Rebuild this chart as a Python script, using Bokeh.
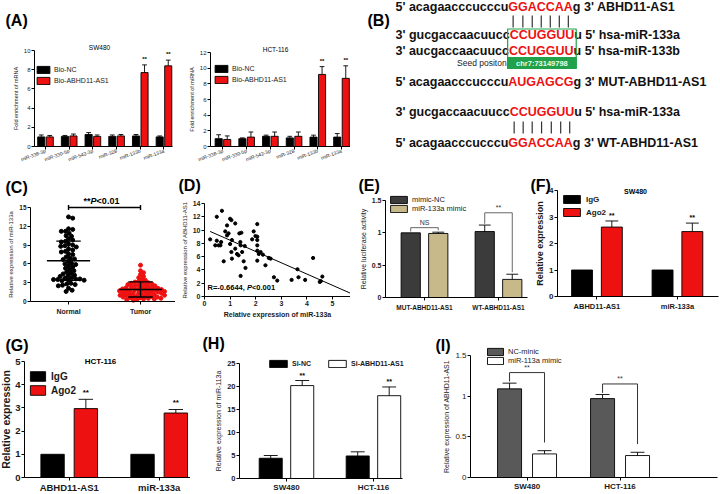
import numpy as np
from bokeh.plotting import figure
from bokeh.models import Range1d, FixedTicker, Label, Legend, LegendItem
from bokeh.layouts import column, row
from bokeh.embed import file_html
from bokeh.resources import INLINE
from bokeh.core.properties import value

FONT = "Liberation Sans"
RED = "#ee1111"

# ---------------- data ----------------
# (A) RNA pull-down
a_mirnas = ["miR-338-3p", "miR-330-5p", "miR-542-3p", "miR-328", "miR-133b", "miR-133a"]
a_sw_nc = [1.0, 1.05, 1.25, 1.05, 1.1, 1.0]
a_sw_nc_err = [0.2, 0.1, 0.2, 0.15, 0.15, 0.1]
a_sw_ab = [1.0, 1.1, 1.05, 1.1, 7.7, 8.4]
a_sw_ab_err = [0.15, 0.2, 0.15, 0.15, 0.8, 0.6]
a_hct_nc = [1.0, 1.0, 1.3, 1.1, 1.2, 1.2]
a_hct_nc_err = [0.5, 0.1, 0.15, 0.2, 0.25, 0.45]
a_hct_ab = [0.9, 1.2, 1.3, 1.3, 9.2, 8.7]
a_hct_ab_err = [0.45, 0.65, 0.55, 0.55, 1.0, 1.6]
a_sig = ["", "", "", "", "**", "**"]

# (B) binding sites
b_prefix = ["5' acagaacccucccu", "3' gucgaccaacuucc", "3' aucgaccaacuucc",
            "5' acagaacccucccu", "3' gucgaccaacuucc", "5' acagaacccucccu"]
b_site = ["GGACCAA", "CCUGGUU", "CCUGGUU", "AUGAGCG", "CCUGGUU", "GGACCAA"]
b_suffix = ["g 3' ABHD11-AS1", "u 5' hsa-miR-133a", "u 5' hsa-miR-133b",
            "g 3' MUT-ABHD11-AS1", "u 5' hsa-miR-133a", "g 3'  WT-ABHD11-AS1"]
b_seed_label = "Seed positon"
b_seed_pos = "chr7:73149798"

# (C) miR-133a in tissues
c_groups = ["Normal", "Tumor"]
c_normal = [13.5, 13.3, 11.6, 11.5, 11.2, 11.2, 10.9, 10.5, 10.4, 10.0, 9.8, 9.6, 9.5,
            9.2, 9.0, 8.9, 8.8, 8.7, 8.4, 8.2, 8.0, 7.9, 7.6, 7.5, 7.1, 6.9, 6.8, 6.7,
            6.4, 6.1, 6.0, 5.9, 5.7, 5.5, 5.3, 5.1, 4.9, 4.7, 4.5, 4.4, 4.2, 4.1, 4.0,
            3.8, 3.7, 3.6, 3.6, 3.5, 3.5, 3.4, 3.4, 3.3, 2.9, 2.8, 2.7, 2.6, 2.5, 2.1,
            1.8, 1.6]
c_tumor = [5.8, 4.9, 4.6, 4.3, 4.0, 3.8, 3.5, 3.4, 3.2, 3.1, 3.0, 2.9, 2.9, 2.8, 2.7,
           2.7, 2.6, 2.5, 2.5, 2.4, 2.3, 2.3, 2.2, 2.2, 2.1, 2.1, 2.0, 2.0, 1.9, 1.9,
           1.8, 1.8, 1.8, 1.7, 1.7, 1.6, 1.6, 1.5, 1.5, 1.5, 1.4, 1.4, 1.3, 1.3, 1.2,
           1.2, 1.1, 1.1, 1.0, 1.0, 1.0, 0.9, 0.9, 0.8, 0.8, 0.7, 0.7, 0.6, 0.6, 0.5,
           0.5, 0.4, 0.4, 0.3, 0.3, 0.2]

# (D) correlation
d_mir = [0.22, 0.48, 0.42, 0.55, 0.62, 0.65, 0.48, 0.68, 0.75, 0.81, 0.88, 0.88, 0.94,
         1.0, 1.05, 1.0, 1.07, 1.05, 1.07, 1.2, 1.2, 1.27, 1.33, 1.36, 1.4, 1.41, 1.44,
         1.41, 1.47, 1.53, 1.57, 1.6, 1.86, 1.92, 1.99, 2.06, 2.06, 2.06, 2.06, 2.06,
         2.06, 2.12, 2.19, 2.28, 2.38, 2.51, 2.58, 2.71, 2.84, 3.4, 3.63, 3.67, 3.93,
         4.24, 4.5, 4.54, 4.6]
d_abhd = [8.6, 8.4, 7.7, 7.7, 7.7, 8.2, 12.0, 12.9, 5.3, 9.8, 9.2, 10.7, 9.5, 11.7,
          11.5, 7.9, 8.5, 6.7, 5.7, 11.0, 7.2, 6.4, 6.2, 9.5, 8.2, 7.7, 9.6, 3.1, 6.7,
          5.3, 7.6, 4.3, 8.6, 9.8, 9.1, 10.9, 9.0, 8.5, 7.7, 6.9, 5.4, 6.4, 6.7, 6.3,
          4.7, 5.8, 5.7, 2.9, 2.4, 2.5, 4.1, 2.9, 2.5, 5.8, 2.2, 2.3, 3.0]
d_stat = ("R=-0.6644, ", "P", "<0.001")

# (E) luciferase
e_groups = ["MUT-ABHD11-AS1", "WT-ABHD11-AS1"]
e_nc = [1.0, 1.02]
e_nc_err = [0.0, 0.1]
e_mimic = [0.99, 0.28]
e_mimic_err = [0.02, 0.08]

# (F) / (G) RIP
fg_groups = ["ABHD11-AS1", "miR-133a"]
f_igg = [1.0, 1.0]
f_igg_err = [0.0, 0.0]
f_ago2 = [2.62, 2.45]
f_ago2_err = [0.23, 0.32]
g_igg = [1.0, 1.0]
g_igg_err = [0.0, 0.0]
g_ago2 = [2.97, 2.78]
g_ago2_err = [0.4, 0.15]

# (H) knockdown
hi_groups = ["SW480", "HCT-116"]
h_sinc = [4.4, 4.9]
h_sinc_err = [0.6, 0.9]
h_si = [20.2, 18.0]
h_si_err = [1.1, 1.9]

# (I) mimic
i_nc = [1.09, 0.97]
i_nc_err = [0.07, 0.05]
i_mimic = [0.29, 0.27]
i_mimic_err = [0.04, 0.04]

# ---------------- helpers ----------------
CW = {" ": 278, "'": 238, "-": 333, ".": 278, ",": 278, ":": 333, "*": 389, "<": 584,
      "=": 584, "(": 333, ")": 333,
      "A": 722, "B": 722, "C": 722, "D": 722, "G": 778, "H": 722, "M": 833, "N": 722,
      "P": 667, "R": 722, "S": 667, "T": 611, "U": 722, "W": 944,
      "a": 556, "c": 556, "g": 611, "u": 611, "h": 611, "s": 556, "m": 889, "i": 278,
      "r": 389, "o": 611, "n": 611, "e": 556, "t": 333, "p": 611}


def text_w(s, size):
    return sum(CW.get(ch, 556) for ch in s) / 1000.0 * size


def make_panel(w, h, L, R, T, B, xr, yr, axes=True):
    """Frame covers the whole figure; the data box (xr, yr) sits at L/R/T/B px
    inside it and the axes are pinned to its edges with fixed_location."""
    x0, x1 = xr
    y0, y1 = yr
    ux = (x1 - x0) / (w - L - R)
    uy = (y1 - y0) / (h - T - B)
    kw = {}
    if not axes:
        kw = dict(x_axis_location=None, y_axis_location=None)
    p = figure(width=w, height=h,
               x_range=Range1d(x0 - L * ux, x1 + R * ux),
               y_range=Range1d(y0 - B * uy, y1 + T * uy),
               output_backend="svg", toolbar_location=None, title=None,
               min_border_left=0, min_border_right=0, min_border_top=0,
               min_border_bottom=0, **kw)
    p.xgrid.visible = False
    p.ygrid.visible = False
    p.outline_line_color = None
    p.background_fill_color = "white"
    p.border_fill_color = "white"
    g = dict(w=w, h=h, L=L, R=R, T=T, B=B, xr=xr, yr=yr)
    return p, g


def to_data(g, fx, fy):
    fw = g["w"] - g["L"] - g["R"]
    fh = g["h"] - g["T"] - g["B"]
    x0, x1 = g["xr"]
    y0, y1 = g["yr"]
    return x0 + (fx - g["L"]) / fw * (x1 - x0), y1 - (fy - g["T"]) / fh * (y1 - y0)


def add_text(p, g, fx, fy, text, size, style="normal", color="black", align="left",
             baseline="middle"):
    x, y = to_data(g, fx, fy)
    p.add_layout(Label(x=x, y=y, text=text, text_font=FONT, text_font_size=f"{size}px",
                       text_font_style=style, text_color=color, text_align=align,
                       text_baseline=baseline))


def style_axes(p, g, xticks, xlabels, yticks, tick_px, xlab_px, ylabel, ylabel_px,
               tick_style="normal", xlab_style="normal", ylabel_style="normal",
               xlabel=None, xlabel_px=7, xlabel_style="normal", orient=None,
               ylab_standoff=2, xlab_standoff=1):
    xa = p.xaxis[0]
    ya = p.yaxis[0]
    for ax in (xa, ya):
        ax.axis_line_color = "black"
        ax.axis_line_width = 1
        ax.major_tick_line_color = "black"
        ax.major_tick_in = 0
        ax.major_tick_out = 3
        ax.minor_tick_line_color = None
        ax.major_label_text_font = FONT
        ax.major_label_text_color = "#1a1a1a"
        ax.major_label_standoff = 1
        ax.axis_label_text_font = FONT
        ax.axis_label_text_color = "#1a1a1a"
    xa.fixed_location = g["yr"][0]
    ya.fixed_location = g["xr"][0]
    xa.bounds = tuple(g["xr"])
    ya.bounds = tuple(g["yr"])
    xa.ticker = FixedTicker(ticks=xticks)
    if xlabels is not None:
        xa.major_label_overrides = dict(zip(xticks, xlabels))
    xa.major_label_text_font_size = f"{xlab_px}px"
    xa.major_label_text_font_style = xlab_style
    xa.major_label_standoff = xlab_standoff
    if orient is not None:
        xa.major_label_orientation = orient
    ya.ticker = FixedTicker(ticks=yticks)
    ya.major_label_text_font_size = f"{tick_px}px"
    ya.major_label_text_font_style = tick_style
    ya.axis_label = ylabel
    ya.axis_label_text_font_size = f"{ylabel_px}px"
    ya.axis_label_text_font_style = ylabel_style
    ya.axis_label_standoff = ylab_standoff
    if xlabel:
        xa.axis_label = xlabel
        xa.axis_label_text_font_size = f"{xlabel_px}px"
        xa.axis_label_text_font_style = xlabel_style
        xa.axis_label_standoff = 2


def bars(p, xs, tops, width, fill, line="black"):
    return p.vbar(x=xs, top=tops, width=width, fill_color=fill, line_color=line,
                  line_width=0.9)


def err_bars(p, xs, tops, errs, capw, color="black", lw=0.9):
    sel = [i for i, e in enumerate(errs) if e > 0]
    x = [xs[i] for i in sel]
    y0 = [tops[i] for i in sel]
    y1 = [tops[i] + errs[i] for i in sel]
    p.segment(x0=x, y0=y0, x1=x, y1=y1, line_color=color, line_width=lw)
    p.segment(x0=[v - capw / 2 for v in x], y0=y1, x1=[v + capw / 2 for v in x], y1=y1,
              line_color=color, line_width=lw)


def stars(p, xs, tops, errs, sig, pad, size):
    p.text(x=xs, y=[t + e + pad for t, e in zip(tops, errs)], text=sig,
           text_font=value(FONT), text_font_size=f"{size}px", text_font_style="bold",
           text_align="center", text_baseline="bottom", text_color="black")


def add_legend(p, g, rends, labels, left, first_center, gh, spacing, gw, size,
               style="normal", horizontal=False, standoff=3):
    """Legend anchored by its bottom edge; first_center is the px row of item 1."""
    items = [LegendItem(label=l, renderers=[r]) for r, l in zip(rends, labels)]
    leg = Legend(items=items, orientation="horizontal" if horizontal else "vertical",
                 glyph_width=int(gw), glyph_height=int(gh), label_height=int(gh),
                 label_width=10,
                 label_text_font=FONT, label_text_font_size=f"{size}px",
                 label_text_font_style=style, label_standoff=int(standoff),
                 spacing=int(spacing), padding=0, margin=0, border_line_color=None,
                 background_fill_alpha=0, label_text_color="#1a1a1a")
    n = 1 if horizontal else len(items)
    bottom = first_center - gh / 2 + n * int(gh) + (n - 1) * int(spacing)
    leg.location = (left, g["h"] - bottom)
    p.add_layout(leg)


# ---------------- (A) ----------------
def panel_a(L, R, T, xr, yr, yticks, nc, nc_err, ab, ab_err, title, title_x, ylabel,
            leg_left, leg_c, letter):
    p, g = make_panel(175, 165, L, R, T, 19, xr, yr)
    idx = np.arange(len(a_mirnas))
    x_nc = list(idx - 0.18)
    x_ab = list(idx + 0.18)
    r1 = bars(p, x_nc, nc, 0.3, "black")
    r2 = bars(p, x_ab, ab, 0.3, RED)
    err_bars(p, x_nc, nc, nc_err, 0.2)
    err_bars(p, x_ab, ab, ab_err, 0.2)
    stars(p, x_ab, ab, ab_err, a_sig, 0.03 * yr[1], 6)
    style_axes(p, g, list(range(len(a_mirnas))), a_mirnas, yticks, 6, 5, ylabel, 5.5,
               orient=0.35)
    add_legend(p, g, [r1, r2], ["Bio-NC", "Bio-ABHD11-AS1"], leg_left, leg_c, 9, 2, 16, 7)
    add_text(p, g, title_x, T - 3, title, 6.5, align="center")
    if letter:
        add_text(p, g, 5, 20, "(A)", 16, "bold")
    return p


pA1 = panel_a(34, 3, 50, (-0.464, 5.36), (0, 10), [0, 2, 4, 6, 8, 10],
              a_sw_nc, a_sw_nc_err, a_sw_ab, a_sw_ab_err, "SW480", 99,
              "Fold enrichment of mRNA", 35, 69, True)
pA2 = panel_a(35, 0, 52, (-0.525, 5.38), (0, 12), [0, 2, 4, 6, 8, 10, 12],
              a_hct_nc, a_hct_nc_err, a_hct_ab, a_hct_ab_err, "HCT-116", 100,
              "Fold enrichment of miRNA", 38, 68, False)

# ---------------- (B) ----------------
pB, gB = make_panel(370, 165, 0, 0, 0, 0, (0, 370), (165, 0), axes=False)
B_SIZE = 12.5
B_X0 = 45
b_line_y = [6, 34, 50, 81, 111, 142]
px_, py_, pt_, sx_, sy_, st_, ux_, uy_, ut_ = [], [], [], [], [], [], [], [], []
site_start = []
for k in range(len(b_prefix)):
    xs = B_X0 + text_w(b_prefix[k], B_SIZE)
    site_start.append(xs)
    px_.append(B_X0); py_.append(b_line_y[k]); pt_.append(b_prefix[k])
    sx_.append(xs); sy_.append(b_line_y[k]); st_.append(b_site[k])
    ux_.append(xs + text_w(b_site[k], B_SIZE)); uy_.append(b_line_y[k]); ut_.append(b_suffix[k])
common = dict(text_font=value(FONT), text_font_size=f"{B_SIZE}px", text_font_style="bold",
              text_align="left", text_baseline="middle")
pB.text(x=px_, y=py_, text=pt_, text_color="#111111", **common)
pB.text(x=sx_, y=sy_, text=st_, text_color=RED, **common)
pB.text(x=ux_, y=uy_, text=ut_, text_color="#111111", **common)


def pipes(k, y0, y1):
    xs = []
    pos = site_start[k]
    for ch in b_site[k]:
        wch = text_w(ch, B_SIZE)
        xs.append(pos + wch / 2)
        pos += wch
    pB.segment(x0=xs, y0=[y0] * len(xs), x1=xs, y1=[y1] * len(xs), line_color="#333333",
               line_width=1.2)


pipes(0, 15, 27)
pipes(4, 121, 133)
bx0 = site_start[1] - 2
bx1 = site_start[1] + text_w(b_site[1], B_SIZE) + 2
pB.quad(left=[bx0], right=[bx1], top=[57], bottom=[68], fill_color="#21a24a",
        line_color="#21a24a")
pB.quad(left=[bx0], right=[bx1], top=[28.5], bottom=[68], fill_color=None,
        line_color="#21a24a", line_width=1.2)
pB.text(x=[(bx0 + bx1) / 2], y=[62.5], text=[b_seed_pos], text_font=value(FONT),
        text_font_size="7.5px", text_font_style="bold", text_align="center",
        text_baseline="middle", text_color="#e8ffe8")
pB.text(x=[bx0 - 1], y=[62.5], text=[b_seed_label], text_font=value(FONT),
        text_font_size="8.5px", text_align="right", text_baseline="middle",
        text_color="#222222")
add_text(pB, gB, 17, 20, "(B)", 16, "bold")

# ---------------- (C) ----------------
pC, gC = make_panel(175, 160, 30, 0, 42, 24, (-0.528, 1.486), (0, 15))
kxC = (175 - 30) / (1.486 + 0.528)
kyC = (160 - 42 - 24) / 15.0


def swarm(vals, kx, ky, d):
    v = np.asarray(vals, dtype=float)
    order = np.argsort(-v, kind="stable")
    placed = []
    offs = np.zeros(len(v))
    for i in order:
        y = v[i] * ky
        k = 0
        found = None
        while found is None:
            cands = [0.0] if k == 0 else [k * 0.6, -k * 0.6]
            for c in cands:
                if all((c - a) ** 2 + (y - b) ** 2 >= d * d for a, b in placed):
                    found = c
                    break
            k += 1
        placed.append((found, y))
        offs[i] = found / kx
    return offs


nx = list(0 + swarm(c_normal, kxC, kyC, 3.9))
tx = list(1 + swarm(c_tumor, kxC, kyC, 3.5))
pC.scatter(nx, c_normal, size=4, color="black", marker="circle")
pC.scatter(tx, c_tumor, size=4, color=RED, marker="circle")
for gi, vals in enumerate([c_normal, c_tumor]):
    m = float(np.mean(vals))
    s = float(np.std(vals, ddof=1))
    pC.segment(x0=[gi - 0.3], y0=[m], x1=[gi + 0.3], y1=[m], line_color="black", line_width=1.6)
    pC.segment(x0=[gi - 0.17, gi - 0.17, gi], y0=[m + s, m - s, m - s],
               x1=[gi + 0.17, gi + 0.17, gi], y1=[m + s, m - s, m + s],
               line_color="black", line_width=1.4)
pC.segment(x0=[0, 0, 1], y0=[15, 14.6, 14.6], x1=[1, 0, 1], y1=[15, 15.4, 15.4],
           line_color="black", line_width=1.4)
style_axes(pC, gC, [0, 1], c_groups, [0, 3, 6, 9, 12, 15], 6.5, 7,
           "Relative expression of miR-133a", 6, tick_style="bold", xlab_style="bold",
           xlab_standoff=3)
sz = 9
tot = text_w("**", sz) + text_w("P", sz) + text_w("<0.01", sz)
x0c = 101 - tot / 2
add_text(pC, gC, x0c, 35, "**", sz, "bold")
add_text(pC, gC, x0c + text_w("**", sz), 35, "P", sz, "bold italic")
add_text(pC, gC, x0c + text_w("**P", sz), 35, "<0.01", sz, "bold")
add_text(pC, gC, 5, 22, "(C)", 16, "bold")

# ---------------- (D) ----------------
pD, gD = make_panel(175, 160, 29, 0, 38, 29, (0, 5.70), (0, 14))
pD.scatter(d_mir, d_abhd, size=3.2, color="black", marker="circle")
slope, icpt = np.polyfit(d_mir, d_abhd, 1)
fx = [min(d_mir), 5.70]
pD.line(fx, [icpt + slope * v for v in fx], line_color="black", line_width=1)
style_axes(pD, gD, [0, 1, 2, 3, 4, 5], None, list(range(0, 15, 2)), 7, 7,
           "Relative expression of ABHD11-AS1", 6, tick_style="bold", xlab_style="bold",
           xlabel="Relative expression of miR-133a", xlabel_px=7, xlabel_style="bold")
sz = 7.5
xx = 32
add_text(pD, gD, xx, 122, d_stat[0], sz, "bold")
xx += text_w(d_stat[0], sz)
add_text(pD, gD, xx, 122, d_stat[1], sz, "bold italic")
xx += text_w(d_stat[1], sz)
add_text(pD, gD, xx, 122, d_stat[2], sz, "bold")
add_text(pD, gD, 3, 20, "(D)", 16, "bold")

# ---------------- (E) ----------------
pE, gE = make_panel(178, 160, 35, 1, 35, 28, (-0.527, 1.392), (0, 1.5))
xe_nc = [i - 0.186 for i in range(2)]
xe_mi = [i + 0.186 for i in range(2)]
rE1 = bars(pE, xe_nc, e_nc, 0.26, "#3b3b3b")
rE2 = bars(pE, xe_mi, e_mimic, 0.26, "#c8b98b")
err_bars(pE, xe_nc, e_nc, e_nc_err, 0.16)
err_bars(pE, xe_mi, e_mimic, e_mimic_err, 0.16)
# significance brackets
br_y = [max(e_nc[0] + e_nc_err[0], e_mimic[0] + e_mimic_err[0]) + 0.07,
        max(e_nc[1] + e_nc_err[1], e_mimic[1] + e_mimic_err[1]) + 0.19]
e_sig = ["NS", "**"]
for i in range(2):
    pE.segment(x0=[xe_nc[i], xe_nc[i], xe_mi[i]],
               y0=[br_y[i], br_y[i], br_y[i]],
               x1=[xe_mi[i], xe_nc[i], xe_mi[i]],
               y1=[br_y[i], e_nc[i] + e_nc_err[i] + 0.02, e_mimic[i] + e_mimic_err[i] + 0.03],
               line_color="#666666", line_width=1)
pE.text(x=[0, 1], y=[v + 0.02 for v in br_y], text=e_sig, text_font=value(FONT),
        text_font_size="7px", text_align="center", text_baseline="bottom",
        text_color="#333333")
style_axes(pE, gE, [0, 1], e_groups, [0, 0.5, 1.0, 1.5], 7, 6.5,
           "Relative luciferase activity", 7, tick_style="bold", xlab_style="bold",
           xlab_standoff=3)
add_legend(pE, gE, [rE1, rE2], ["mimic-NC", "miR-133a mimic"], 38, 34, 9, 0, 21, 7.5)
add_text(pE, gE, 8, 20, "(E)", 16, "bold")


# ---------------- (F) / (G) ----------------
def panel_rip(w, h, L, R, T, B, xr, yr, yticks, igg, igg_err, ago, ago_err, title, tpos,
              fs, leg_left, leg_c, leg_gh, leg_sp, letter, letter_x):
    p, g = make_panel(w, h, L, R, T, B, xr, yr)
    x1 = [i - 0.185 for i in range(2)]
    x2 = [i + 0.185 for i in range(2)]
    r1 = bars(p, x1, igg, 0.26, "black")
    r2 = bars(p, x2, ago, 0.26, RED)
    err_bars(p, x1, igg, igg_err, 0.16)
    err_bars(p, x2, ago, ago_err, 0.16)
    stars(p, x2, ago, ago_err, ["**", "**"], 0.02 * yr[1], fs["star"])
    style_axes(p, g, [0, 1], fg_groups, yticks, fs["tick"], fs["xlab"], "Relative expression",
               fs["ylab"], tick_style="bold", xlab_style="bold", ylabel_style="bold",
               ylab_standoff=fs["ystand"], xlab_standoff=fs["xstand"])
    add_legend(p, g, [r1, r2], ["IgG", "Ago2"], leg_left, leg_c, leg_gh, leg_sp,
               fs["gw"], fs["leg"], "bold", standoff=4)
    add_text(p, g, tpos[0], tpos[1], title, fs["title"], "bold", align="center")
    add_text(p, g, letter_x, 20, letter, 16, "bold")
    return p


pF = panel_rip(192, 160, 29, 2, 25, 29, (-0.49, 1.51), (0, 4), [0, 1, 2, 3, 4],
               f_igg, f_igg_err, f_ago2, f_ago2_err, "SW480", (107, 26),
               dict(star=7, tick=8, xlab=7.5, ylab=9, gw=21, leg=8, title=7, xstand=2,
                    ystand=1),
               33, 34, 10, 3, "(F)", 2)
pG = panel_rip(190, 169, 24, 0, 36, 17, (-0.497, 1.348), (0, 5), [0, 1, 2, 3, 4, 5],
               g_igg, g_igg_err, g_ago2, g_ago2_err, "HCT-116", (100, 36),
               dict(star=8, tick=9.5, xlab=9.5, ylab=10.5, gw=19, leg=10, title=8, xstand=1,
                    ystand=0),
               28, 51, 12, 2, "(G)", 5)

# ---------------- (H) ----------------
pH, gH = make_panel(215, 169, 49, 3, 38, 16, (-0.54, 1.334), (0, 25))
xh1 = [i - 0.181 for i in range(2)]
xh2 = [i + 0.181 for i in range(2)]
rH1 = bars(pH, xh1, h_sinc, 0.265, "black")
rH2 = bars(pH, xh2, h_si, 0.265, "white")
err_bars(pH, xh1, h_sinc, h_sinc_err, 0.16)
err_bars(pH, xh2, h_si, h_si_err, 0.16)
stars(pH, xh2, h_si, h_si_err, ["**", "**"], 0.4, 7)
style_axes(pH, gH, [0, 1], hi_groups, [0, 5, 10, 15, 20, 25], 7.5, 8,
           "Relative expression of miR-113a", 7, tick_style="bold", xlab_style="bold",
           xlab_standoff=1)
add_legend(pH, gH, [rH1, rH2], ["Si-NC", "Si-ABHD11-AS1"], 77, 38, 9, 15, 22, 7, "bold",
           horizontal=True)
add_text(pH, gH, 12, 18, "(H)", 16, "bold")

# ---------------- (I) ----------------
pI, gI = make_panel(315, 169, 65, 3, 30, 17, (-0.608, 2.048), (0, 1.5))
xi1 = [i - 0.188 for i in range(2)]
xi2 = [i + 0.188 for i in range(2)]
rI1 = bars(pI, xi1, i_nc, 0.258, "#595959")
rI2 = bars(pI, xi2, i_mimic, 0.258, "white")
err_bars(pI, xi1, i_nc, i_nc_err, 0.15)
err_bars(pI, xi2, i_mimic, i_mimic_err, 0.15)
for i in range(2):
    top_l = i_nc[i] + i_nc_err[i]
    by = top_l + 0.13
    pI.segment(x0=[xi1[i], xi1[i], xi2[i]], y0=[by, by, by],
               x1=[xi2[i], xi1[i], xi2[i]],
               y1=[by, top_l + 0.02, i_mimic[i] + i_mimic_err[i] + 0.1],
               line_color="#333333", line_width=1)
    pI.text(x=[i], y=[by + 0.02], text=["**"], text_font=value(FONT),
            text_font_size="7px", text_align="center", text_baseline="bottom",
            text_color="#333333")
style_axes(pI, gI, [0, 1], hi_groups, [0, 0.5, 1.0, 1.5], 8, 8,
           "Relative expression of ABHD11-AS1", 7, tick_style="normal", xlab_style="bold",
           xlab_standoff=1)
add_legend(pI, gI, [rI1, rI2], ["NC-minic", "miR-113a mimic"], 80, 26, 9, 0, 20, 7.5)
add_text(pI, gI, 30, 20, "(I)", 16, "bold")

layout = column(row(pA1, pA2, pB), row(pC, pD, pE, pF), row(pG, pH, pI))
open("out.html", "w").write(file_html(layout, INLINE))
